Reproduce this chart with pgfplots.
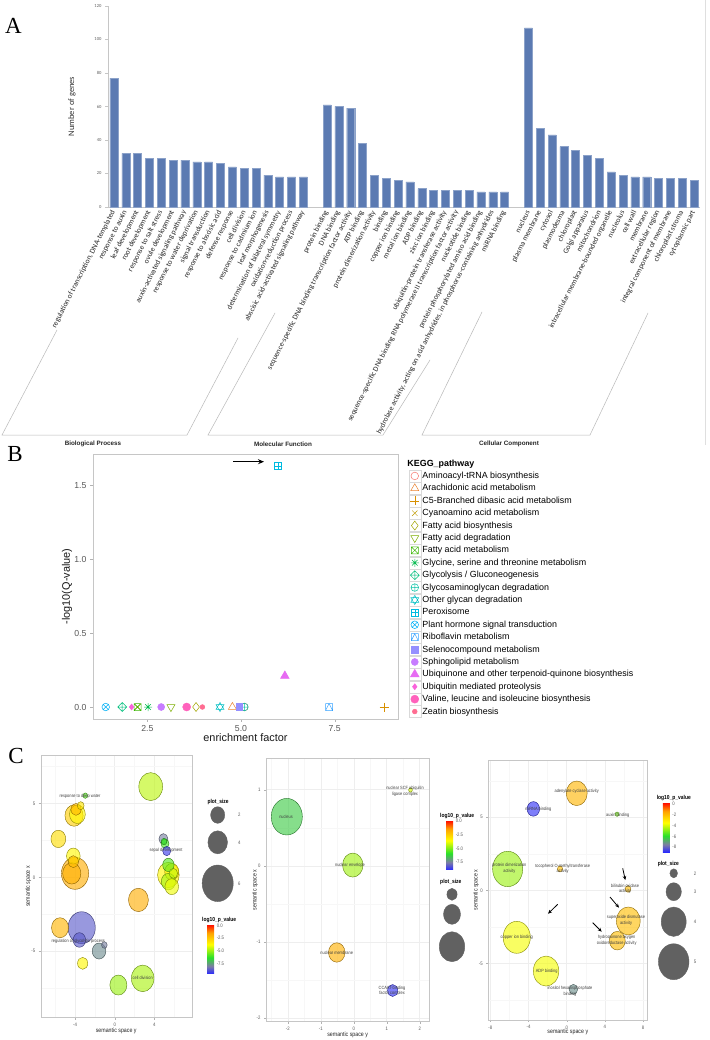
\documentclass[border=0pt]{standalone}
\usepackage{pgfplots}
\usepackage{pgfplotstable}
\pgfplotsset{compat=1.18}
\usepackage{fontspec}
\setmainfont{Liberation Sans}
\newfontfamily\calf{Carlito}
\newfontfamily\serf{Liberation Serif}
\newfontfamily\narf[FakeStretch=0.85]{Liberation Sans}
\usetikzlibrary{arrows.meta}
\pgfplotsset{/pgf/number format/assume math mode=true}
\definecolor{barblue}{RGB}{91,122,178}
\definecolor{k1}{HTML}{F8766D}\definecolor{k2}{HTML}{EA8331}\definecolor{k3}{HTML}{D89000}
\definecolor{k4}{HTML}{C09B00}\definecolor{k5}{HTML}{A3A500}\definecolor{k6}{HTML}{7CAE00}
\definecolor{k7}{HTML}{39B600}\definecolor{k8}{HTML}{00BB4E}\definecolor{k9}{HTML}{00BF7D}
\definecolor{k10}{HTML}{00C1A3}\definecolor{k11}{HTML}{00BFC4}\definecolor{k12}{HTML}{00BAE0}
\definecolor{k13}{HTML}{00B0F6}\definecolor{k14}{HTML}{35A2FF}\definecolor{k15}{HTML}{9590FF}
\definecolor{k16}{HTML}{C77CFF}\definecolor{k17}{HTML}{E76BF3}\definecolor{k18}{HTML}{FA62DB}
\definecolor{k19}{HTML}{FF62BC}\definecolor{k20}{HTML}{FF6C91}
\pgfdeclareplotmark{ell}{\pgfpathellipse{\pgfpointorigin}{\pgfqpoint{0.85\pgfplotmarksize}{0pt}}{\pgfqpoint{0pt}{\pgfplotmarksize}}\pgfusepathqfillstroke}
\pgfdeclareplotmark{sqx}{\pgfpathrectangle{\pgfqpoint{-\pgfplotmarksize}{-\pgfplotmarksize}}{\pgfqpoint{2\pgfplotmarksize}{2\pgfplotmarksize}}%
 \pgfpathmoveto{\pgfqpoint{-\pgfplotmarksize}{-\pgfplotmarksize}}\pgfpathlineto{\pgfqpoint{\pgfplotmarksize}{\pgfplotmarksize}}%
 \pgfpathmoveto{\pgfqpoint{-\pgfplotmarksize}{\pgfplotmarksize}}\pgfpathlineto{\pgfqpoint{\pgfplotmarksize}{-\pgfplotmarksize}}\pgfusepathqstroke}
\pgfdeclareplotmark{sqplus}{\pgfpathrectangle{\pgfqpoint{-\pgfplotmarksize}{-\pgfplotmarksize}}{\pgfqpoint{2\pgfplotmarksize}{2\pgfplotmarksize}}%
 \pgfpathmoveto{\pgfqpoint{0pt}{-\pgfplotmarksize}}\pgfpathlineto{\pgfqpoint{0pt}{\pgfplotmarksize}}%
 \pgfpathmoveto{\pgfqpoint{-\pgfplotmarksize}{0pt}}\pgfpathlineto{\pgfqpoint{\pgfplotmarksize}{0pt}}\pgfusepathqstroke}
\pgfdeclareplotmark{sqtri}{\pgfpathrectangle{\pgfqpoint{-\pgfplotmarksize}{-\pgfplotmarksize}}{\pgfqpoint{2\pgfplotmarksize}{2\pgfplotmarksize}}%
 \pgfpathmoveto{\pgfqpoint{-\pgfplotmarksize}{-\pgfplotmarksize}}\pgfpathlineto{\pgfqpoint{0pt}{\pgfplotmarksize}}\pgfpathlineto{\pgfqpoint{\pgfplotmarksize}{-\pgfplotmarksize}}\pgfusepathqstroke}
\pgfdeclareplotmark{dplus}{\pgfpathmoveto{\pgfqpoint{0pt}{\pgfplotmarksize}}\pgfpathlineto{\pgfqpoint{\pgfplotmarksize}{0pt}}\pgfpathlineto{\pgfqpoint{0pt}{-\pgfplotmarksize}}\pgfpathlineto{\pgfqpoint{-\pgfplotmarksize}{0pt}}\pgfpathclose
 \pgfpathmoveto{\pgfqpoint{0pt}{-\pgfplotmarksize}}\pgfpathlineto{\pgfqpoint{0pt}{\pgfplotmarksize}}%
 \pgfpathmoveto{\pgfqpoint{-\pgfplotmarksize}{0pt}}\pgfpathlineto{\pgfqpoint{\pgfplotmarksize}{0pt}}\pgfusepathqstroke}
\pgfdeclareplotmark{ast8}{\pgfpathmoveto{\pgfqpoint{0pt}{-\pgfplotmarksize}}\pgfpathlineto{\pgfqpoint{0pt}{\pgfplotmarksize}}%
 \pgfpathmoveto{\pgfqpoint{-\pgfplotmarksize}{0pt}}\pgfpathlineto{\pgfqpoint{\pgfplotmarksize}{0pt}}%
 \pgfpathmoveto{\pgfqpoint{-0.707\pgfplotmarksize}{-0.707\pgfplotmarksize}}\pgfpathlineto{\pgfqpoint{0.707\pgfplotmarksize}{0.707\pgfplotmarksize}}%
 \pgfpathmoveto{\pgfqpoint{-0.707\pgfplotmarksize}{0.707\pgfplotmarksize}}\pgfpathlineto{\pgfqpoint{0.707\pgfplotmarksize}{-0.707\pgfplotmarksize}}\pgfusepathqstroke}
\pgfdeclareplotmark{david}{\pgfpathmoveto{\pgfqpoint{0pt}{\pgfplotmarksize}}\pgfpathlineto{\pgfqpoint{0.866\pgfplotmarksize}{-0.5\pgfplotmarksize}}\pgfpathlineto{\pgfqpoint{-0.866\pgfplotmarksize}{-0.5\pgfplotmarksize}}\pgfpathclose
 \pgfpathmoveto{\pgfqpoint{0pt}{-\pgfplotmarksize}}\pgfpathlineto{\pgfqpoint{0.866\pgfplotmarksize}{0.5\pgfplotmarksize}}\pgfpathlineto{\pgfqpoint{-0.866\pgfplotmarksize}{0.5\pgfplotmarksize}}\pgfpathclose\pgfusepathqstroke}
\pgfdeclareplotmark{dtri}{\pgfpathmoveto{\pgfqpoint{0pt}{-\pgfplotmarksize}}\pgfpathlineto{\pgfqpoint{0.866\pgfplotmarksize}{0.5\pgfplotmarksize}}\pgfpathlineto{\pgfqpoint{-0.866\pgfplotmarksize}{0.5\pgfplotmarksize}}\pgfpathclose\pgfusepathqstroke}
\pgfplotsset{
 colormap={pv}{rgb255(0pt)=(40,40,255); rgb255(15pt)=(125,125,165); rgb255(32pt)=(40,225,40); rgb255(57pt)=(255,255,0); rgb255(80pt)=(255,160,0); rgb255(97pt)=(255,0,0)},
 kegg/.style={only marks, mark size=3.8pt, line width=0.5pt,
   legend image code/.code={\draw[gray!30,line width=0.4pt,fill=white,solid] (-6pt,-6pt) rectangle (6pt,6pt); \draw[##1] plot coordinates {(0pt,0pt)};}},
 bub/.style={scatter, only marks, mark=ell, point meta=explicit,
   scatter/use mapped color={draw=mapped color!55!black, fill=mapped color},
   visualization depends on={\thisrow{r}\as\rad},
   scatter/@pre marker code/.append style={/tikz/mark size=\rad},
   fill opacity=0.62, line width=0.4pt},
 cstyle/.style={scale only axis, anchor=south west, colormap name=pv,
   grid=both, major grid style={gray!13,line width=0.5pt}, minor grid style={gray!6,line width=0.3pt},
   axis line style={gray!45}, tick style={gray!60}, tick align=outside, major tick length=2pt, minor tick length=0pt,
   tick pos=left, ticklabel style={font=\narf\fontsize{5}{6}\selectfont, text=gray!70!black},
   label style={font=\narf\fontsize{6.2}{7}\selectfont, text=black!85},
   xlabel={semantic space y}, ylabel={semantic space x}},
 cbar/.style={colorbar, colorbar style={width=7pt, height=50pt, at={(parent axis.south east)}, anchor=south west,
   axis line style={draw=none}, major tick length=0pt,
   yticklabel style={font=\narf\fontsize{5}{6}\selectfont, text=gray!70!black, xshift=-1pt}}}
}
\pgfplotstableread{
x y
0 77
1 32
2 32
3 29
4 29
5 28
6 28
7 27
8 27
9 26
10 24
11 23
12 23
13 19
14 18
15 18
16 18
18 61
19 60
20 59
21 38
22 19
23 17
24 16
25 15
26 11
27 10
28 10
29 10
30 10
31 9
32 9
33 9
35 107
36 47
37 43
38 36
39 34
40 31
41 29
42 21
43 19
44 18
45 18
46 17
47 17
48 17
49 16
}\gotable
\pgfplotstableread{
x y r p
-4.00 0.27 16 -1.8
-3.33 -3.41 16 -8.7
3.63 6.14 14 -4.6
2.82 -6.84 13.3 -4.8
5.41 0.16 12.7 -3.6
2.39 -1.53 11.7 -1.8
-4.10 4.18 10.7 -2.6
-4.33 0.27 10.7 -1.9
-5.51 -3.41 10 -2.0
0.37 -7.29 10 -5.0
-3.76 4.27 9.3 -3.6
-5.68 2.60 8.7 -3.0
5.75 0.38 8.3 -3.4
5.41 -0.29 8.3 -4.9
-4.17 1.44 8 -3.6
5.75 -0.63 8 -4.0
-1.58 -4.99 8 -7.8
-3.56 -4.24 7.3 -8.7
5.41 0.84 6.7 -5.8
-3.90 4.60 6 -2.0
-4.17 1.06 6 -2.2
-3.23 -5.82 6 -3.6
4.91 2.60 5.3 -8.0
5.91 0.27 5 -4.5
5.07 2.28 4.7 -6.0
5.24 1.78 4.7 -9.3
-3.43 4.85 4 -3.2
4.97 2.42 3.3 -6.2
-1.04 -4.58 3.3 -8.0
-2.96 5.53 2.7 -5.8
}\cone
\pgfplotstableread{
x y r p
-2.03 0.645 18.3 -6.3
-0.03 0.009 12 -4.6
-0.515 -1.14 9.7 -1.8
1.18 -1.64 6 -8.8
1.72 0.996 2.2 -4.0
}\ctwo
\pgfplotstableread{
x y r p
-6.18 1.46 17.7 -4.6
-5.23 -3.22 16 -3.6
-2.16 -5.53 15 -3.6
6.45 -2.10 14 -2.0
1.05 6.64 12.3 -1.8
5.30 -3.45 9.3 -2.0
-3.49 5.57 7.3 -8.8
0.70 -6.78 5 -7.2
6.42 0.09 3.3 -2.0
-0.70 1.46 3 -2.0
5.27 5.21 2.2 -5.0
}\cthree
\pgfplotstableread{
x y r
217.7 815 8.3
217.7 842.3 11.5
217.7 883.3 18.3
452 894.3 6
452 914.3 10
452 946.7 15
673.7 873.3 4.5
673.7 891.7 9
673.7 921.7 14.7
673.7 961.7 18
}\sizes
\begin{document}
\begin{tikzpicture}
\path[use as bounding box, fill=white] (0pt,0pt) rectangle (709pt,1040pt);
% ---------------- Panel A
\begin{axis}[at={(108pt,833pt)}, anchor=south west, scale only axis, width=592pt, height=201pt,
 xmin=-0.5, xmax=49.5, ymin=0, ymax=120, ytick={0,20,...,120},
 axis lines*=left, axis line style={gray!45}, tick align=outside, major tick length=3pt,
 ytick style={gray!45}, major x tick style={draw=none},
 xtick=data,
 xticklabels={{regulation of transcription, DNA-templated},response to auxin,leaf development,root development,response to salt stress,ovule development,auxin-activated signaling pathway,response to water deprivation,signal transduction,response to abscisic acid,defense response,cell division,response to cadmium ion,leaf morphogenesis,determination of bilateral symmetry,oxidation-reduction process,abscisic acid-activated signaling pathway,
 protein binding,DNA binding,sequence-specific DNA binding transcription factor activity,ATP binding,protein dimerization activity,binding,copper ion binding,metal ion binding,ADP binding,zinc ion binding,ubiquitin-protein transferase activity,sequence-specific DNA binding RNA polymerase II transcription factor activity,nucleotide binding,protein phosphorylated amino acid binding,{hydrolase activity, acting on acid anhydrides, in phosphorus-containing anhydrides},miRNA binding,
 nucleus,plasma membrane,cytosol,plasmodesma,chloroplast,Golgi apparatus,mitochondrion,intracellular membrane-bounded organelle,nucleolus,cell wall,membrane,extracellular region,integral component of membrane,chloroplast stroma,cytoplasmic part},
 xticklabel style={rotate=63, anchor=east, font=\calf\fontsize{7.5}{8}\selectfont, text=black!85, inner sep=1pt},
 yticklabel style={font=\calf\fontsize{4.6}{5}\selectfont, text=gray!75!black},
 ylabel={Number of genes}, ylabel style={at={(axis description cs:-0.061,0.5)}, anchor=center, font=\calf\fontsize{8.5}{9}\selectfont, text=black!80},
 clip=false]
\addplot[ybar, bar width=8pt, bar shift=0pt, fill=barblue, draw=barblue!70!white] table[x=x,y=y] {\gotable};
\end{axis}
% ---------------- Panel B
\begin{axis}[at={(93pt,321pt)}, anchor=south west, scale only axis, width=305pt, height=265pt,
 xmin=1.05, xmax=9.19, ymin=-0.081, ymax=1.71, xtick={2.5,5,7.5}, ytick={0,0.5,1,1.5},
 xticklabel style={/pgf/number format/.cd, fixed, fixed zerofill, precision=1},
 yticklabel style={/pgf/number format/.cd, fixed, fixed zerofill, precision=1},
 axis line style={gray!45}, tick style={gray!60}, tick align=outside, major tick length=3pt, tick pos=left,
 ticklabel style={font=\fontsize{8.7}{9}\selectfont, text=gray!70!black},
 xlabel={enrichment factor}, ylabel={-log10(Q-value)},
 label style={font=\fontsize{10.9}{12}\selectfont, text=black!90},
 xlabel style={at={(axis description cs:0.5,-0.0717)}, anchor=center},
 ylabel style={at={(axis description cs:-0.085,0.5)}, anchor=center},
 legend cell align=left,
 legend style={at={(1.034,0.9875)}, anchor=north west, draw=none, fill=none, inner sep=0pt, row sep=0pt,
   font=\fontsize{8.9}{10}\selectfont, nodes={inner xsep=1.5pt, inner ysep=0pt, minimum height=12.25pt}}]
\addlegendimage{empty legend}\addlegendentry{\hspace*{-15pt}\textbf{KEGG\_pathway}}
\addplot[kegg, color=k1, mark=o] coordinates {(5.09,0)}; \addlegendentry{Aminoacyl-tRNA biosynthesis}
\addplot[kegg, color=k2, mark=triangle, mark size=4.6pt] coordinates {(4.77,0)}; \addlegendentry{Arachidonic acid metabolism}
\addplot[kegg, color=k3, mark=+, mark size=4.5pt] coordinates {(8.82,0)}; \addlegendentry{C5-Branched dibasic acid metabolism}
\addplot[kegg, color=k4, mark=x] coordinates {(2.24,0)}; \addlegendentry{Cyanoamino acid metabolism}
\addplot[kegg, color=k5, mark=diamond, mark size=4.5pt] coordinates {(3.80,0)}; \addlegendentry{Fatty acid biosynthesis}
\addplot[kegg, color=k6, mark=dtri, mark size=4.6pt] coordinates {(3.13,0)}; \addlegendentry{Fatty acid degradation}
\addplot[kegg, color=k7, mark=sqx, mark size=3.5pt] coordinates {(2.24,0)}; \addlegendentry{Fatty acid metabolism}
\addplot[kegg, color=k8, mark=ast8, mark size=4pt] coordinates {(2.52,0)}; \addlegendentry{Glycine, serine and threonine metabolism}
\addplot[kegg, color=k9, mark=dplus, mark size=4.5pt] coordinates {(1.83,0)}; \addlegendentry{Glycolysis / Gluconeogenesis}
\addplot[kegg, color=k10, mark=oplus, mark size=3.8pt] coordinates {(5.09,0)}; \addlegendentry{Glycosaminoglycan degradation}
\addplot[kegg, color=k11, mark=david, mark size=4.6pt] coordinates {(4.44,0)}; \addlegendentry{Other glycan degradation}
\addplot[kegg, color=k12, mark=sqplus, mark size=3.5pt] coordinates {(5.99,1.628)}; \addlegendentry{Peroxisome}
\addplot[kegg, color=k13, mark=otimes, mark size=3.8pt] coordinates {(1.39,0)}; \addlegendentry{Plant hormone signal transduction}
\addplot[kegg, color=k14, mark=sqtri, mark size=3.5pt] coordinates {(7.35,0)}; \addlegendentry{Riboflavin metabolism}
\addplot[kegg, color=k15, mark=square*, mark size=3.3pt] coordinates {(4.95,0)}; \addlegendentry{Selenocompound metabolism}
\addplot[kegg, color=k16, mark=*, mark size=3.5pt] coordinates {(2.87,0)}; \addlegendentry{Sphingolipid metabolism}
\addplot[kegg, color=k17, mark=triangle*, mark size=5pt] coordinates {(6.17,0.21)}; \addlegendentry{Ubiquinone and other terpenoid-quinone biosynthesis}
\addplot[kegg, color=k18, mark=diamond*, mark size=3pt] coordinates {(2.08,0)}; \addlegendentry{Ubiquitin mediated proteolysis}
\addplot[kegg, color=k19, mark=*, mark size=4pt] coordinates {(3.55,0)}; \addlegendentry{Valine, leucine and isoleucine biosynthesis}
\addplot[kegg, color=k20, mark=*, mark size=2.4pt] coordinates {(3.97,0)}; \addlegendentry{Zeatin biosynthesis}
\end{axis}
% ---------------- Panel C1
\begin{axis}[cstyle, cbar, at={(40.7pt,22.3pt)}, width=151pt, height=262.7pt,
 xmin=-7.46, xmax=7.76, ymin=-9.5, ymax=8.28, xtick={-4,0,4}, ytick={-5,0,5},
 minor xtick={-6,-2,2,6}, minor ytick={-7.5,-2.5,2.5,7.5},
 point meta min=-9.6, point meta max=0.26,
 xlabel style={at={(axis description cs:0.5,-0.0506)}, anchor=center},
 ylabel style={at={(axis description cs:-0.082,0.5)}, anchor=center},
 colorbar style={xshift=7pt, yshift=43.7pt, ytick={0,-2.5,-5,-7.5},
   yticklabel style={/pgf/number format/.cd, fixed, fixed zerofill, precision=1}}]
\addplot[bub] table[x=x,y=y,meta=p] {\cone};
\end{axis}
% ---------------- Panel C2
\begin{axis}[cstyle, cbar, at={(266pt,18.3pt)}, width=163.3pt, height=263.4pt,
 xmin=-2.66, xmax=2.29, ymin=-2.05, ymax=1.413, xtick={-2,-1,0,1,2}, ytick={-2,-1,0,1},
 minor xtick={-2.5,-1.5,-0.5,0.5,1.5}, minor ytick={-1.5,-0.5,0.5},
 point meta min=-8.94, point meta max=0.19,
 xlabel style={at={(axis description cs:0.5,-0.05)}, anchor=center},
 ylabel style={at={(axis description cs:-0.067,0.5)}, anchor=center},
 colorbar style={xshift=8.4pt, yshift=151.7pt, ytick={0,-2.5,-5,-7.5},
   yticklabel style={/pgf/number format/.cd, fixed, fixed zerofill, precision=1}}]
\addplot[bub] table[x=x,y=y,meta=p] {\ctwo};
\end{axis}
% ---------------- Panel C3
\begin{axis}[cstyle, cbar, at={(488.3pt,20pt)}, width=159pt, height=260pt,
 xmin=-8.21, xmax=8.44, ymin=-8.88, ymax=8.92, xtick={-8,-4,0,4,8}, ytick={-5,0,5},
 minor xtick={-6,-2,2,6}, minor ytick={-7.5,-2.5,2.5,7.5},
 point meta min=-8.93, point meta max=0.31,
 xlabel style={at={(axis description cs:0.5,-0.047)}, anchor=center},
 ylabel style={at={(axis description cs:-0.077,0.5)}, anchor=center},
 colorbar style={xshift=7pt, yshift=167.7pt, ytick={0,-2,-4,-6,-8}}]
\addplot[bub] table[x=x,y=y,meta=p] {\cthree};
\end{axis}
% ---------------- overlay (pixel coordinates)
\begin{axis}[at={(0pt,0pt)}, anchor=south west, scale only axis, width=709pt, height=1040pt,
 xmin=0, xmax=709, ymin=0, ymax=1040, y dir=reverse, hide axis, clip=false]
\addplot[scatter, only marks, mark=ell, point meta=explicit,
  scatter/use mapped color={draw=black!62, fill=black!62},
  visualization depends on={\thisrow{r}\as\rad},
  scatter/@pre marker code/.append style={/tikz/mark size=\rad}] table[x=x,y=y,meta=r] {\sizes};
% panel letters
\node[font=\serf\fontsize{23}{24}\selectfont] at (axis cs:13.5,25.5) {A};
\node[font=\serf\fontsize{23}{24}\selectfont] at (axis cs:15,454.5) {B};
\node[font=\serf\fontsize{23}{24}\selectfont] at (axis cs:16,755.5) {C};
% brackets panel A
\draw[gray!55, line width=0.5pt] (axis cs:57,330) -- (axis cs:2,435) -- (axis cs:187,435) -- (axis cs:238,338);
\draw[gray!55, line width=0.5pt] (axis cs:275,313) -- (axis cs:208,435) -- (axis cs:383,435) -- (axis cs:430,360);
\draw[gray!55, line width=0.5pt] (axis cs:482,312) -- (axis cs:422,435) -- (axis cs:590,435) -- (axis cs:648,313);
\draw[gray!25, line width=0.6pt] (axis cs:705,0) -- (axis cs:705,445);
\node[font=\bfseries\fontsize{6.3}{7}\selectfont, text=black!85] at (axis cs:93,444) {Biological Process};
\node[font=\bfseries\fontsize{6.3}{7}\selectfont, text=black!85] at (axis cs:283,444) {Molecular Function};
\node[font=\bfseries\fontsize{6.3}{7}\selectfont, text=black!85] at (axis cs:509,444) {Cellular Component};
% arrow panel B
\draw[line width=1.3pt, -{Stealth[length=6pt,width=5pt]}] (axis cs:233,461.7) -- (axis cs:264,461.7);
% C legends titles
\node[anchor=west, font=\narf\bfseries\fontsize{5.8}{6}\selectfont] at (axis cs:204,801.7) {plot\_size};
\node[anchor=west, font=\narf\bfseries\fontsize{5.8}{6}\selectfont] at (axis cs:198.7,920) {log10\_p\_value};
\node[anchor=west, font=\narf\bfseries\fontsize{5.8}{6}\selectfont] at (axis cs:436.7,882.3) {plot\_size};
\node[anchor=west, font=\narf\bfseries\fontsize{5.8}{6}\selectfont] at (axis cs:436.7,815.7) {log10\_p\_value};
\node[anchor=west, font=\narf\bfseries\fontsize{5.8}{6}\selectfont] at (axis cs:654.3,864) {plot\_size};
\node[anchor=west, font=\narf\bfseries\fontsize{5.8}{6}\selectfont] at (axis cs:653.3,797.7) {log10\_p\_value};
\begin{scope}[every node/.style={font=\narf\fontsize{5}{6}\selectfont, text=gray!70!black}]
\node at (axis cs:239.3,815) {2}; \node at (axis cs:239.3,842.3) {4}; \node at (axis cs:239.3,883.3) {6};
\node at (axis cs:695,873.3) {2}; \node at (axis cs:695,891.7) {3}; \node at (axis cs:695,921.7) {4}; \node at (axis cs:695,961.7) {5};
\end{scope}
% bubble labels
\begin{scope}[every node/.style={font=\narf\fontsize{4.6}{5.2}\selectfont, text=black!75, align=center, inner sep=0pt}]
\node at (axis cs:80,796) {response to deep water};
\node at (axis cs:166,850.3) {sepal development};
\node at (axis cs:78.3,941) {regulation of glycolytic process};
\node at (axis cs:142.7,978.3) {cell division};
\node at (axis cs:286,816.7) {nucleus};
\node at (axis cs:350,865) {nuclear envelope};
\node at (axis cs:336.7,953.3) {nuclear membrane};
\node at (axis cs:392,990.5) {CCAAT-binding\\factor complex};
\node at (axis cs:405,791.3) {nuclear SCF ubiquitin\\ligase complex};
\node at (axis cs:576.7,791.7) {adenylate cyclase activity};
\node at (axis cs:538.3,809.3) {miRNA binding};
\node at (axis cs:617.7,815) {auxin binding};
\node at (axis cs:509.3,868.3) {protein dimerization\\activity};
\node at (axis cs:562.7,869) {tocopherol O-methyltransferase\\activity};
\node at (axis cs:625,888.7) {bilirubin oxidase\\activity};
\node at (axis cs:626,920.3) {superoxide dismutase\\activity};
\node at (axis cs:616.7,940.3) {hydroquinone:oxygen\\oxidoreductase activity};
\node at (axis cs:516.7,937.3) {copper ion binding};
\node at (axis cs:546.7,971.7) {ADP binding};
\node at (axis cs:570,991.3) {inositol hexakisphosphate\\binding};
\end{scope}
% arrows C3
\draw[line width=0.8pt, -{Stealth[length=4pt,width=3.5pt]}] (axis cs:622.7,868.3) -- (axis cs:625.3,880);
\draw[line width=0.8pt, -{Stealth[length=4pt,width=3.5pt]}] (axis cs:610,897) -- (axis cs:619,907.7);
\draw[line width=0.8pt, -{Stealth[length=4pt,width=3.5pt]}] (axis cs:592.7,922.7) -- (axis cs:601.7,931.7);
\draw[line width=0.8pt, -{Stealth[length=4pt,width=3.5pt]}] (axis cs:557.7,904.3) -- (axis cs:548,913.7);
\end{axis}
\end{tikzpicture}
\end{document}
